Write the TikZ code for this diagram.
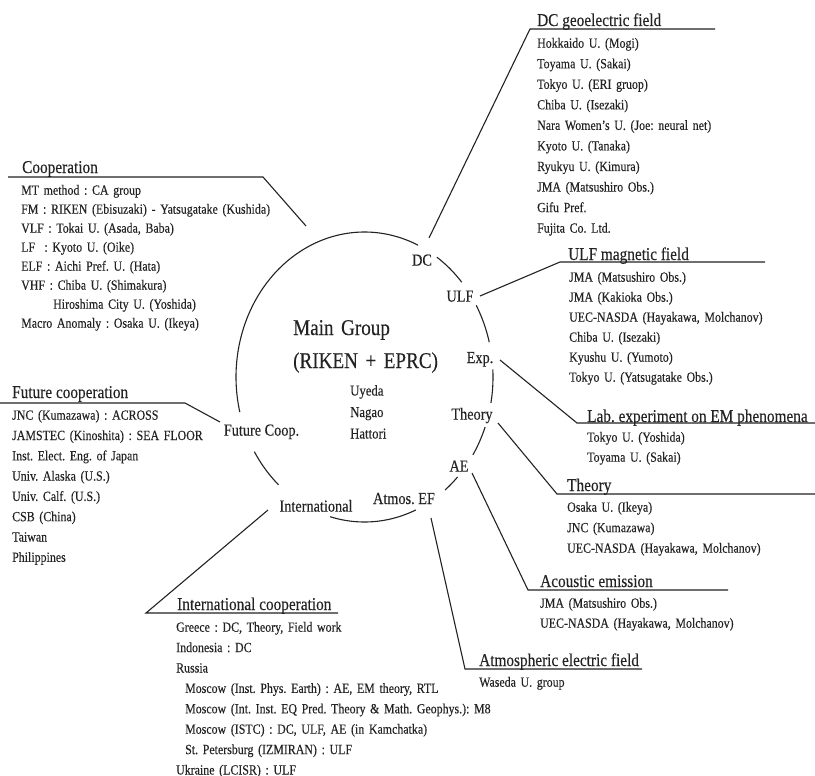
\documentclass[tikz,border=0pt]{standalone}
\usepackage{fontspec}
\setmainfont[FakeStretch=0.85,FakeBold=0.2]{Liberation Serif}
\definecolor{ink}{RGB}{35,35,35}
\tikzset{
  ring/.style={draw=ink, line width=1.1pt},
  conn/.style={draw=ink, line width=1.1pt, line join=miter},
  head/.style={anchor=base west, inner sep=0pt, text=ink, font=\fontsize{18}{20}\selectfont},
  list/.style={anchor=base west, inner sep=0pt, text=ink, text width=330pt, align=left},
  clabel/.style={anchor=base, inner sep=0pt, text=ink, font=\fontsize{16.8}{18}\selectfont},
}
\frenchspacing
\begin{document}
\begin{tikzpicture}[x=1pt,y=-1pt]
\fill[white] (0,0) rectangle (815,776);
\useasboundingbox (0,0) rectangle (815,776);

% ---- main ellipse, drawn as arcs between the labels
\def\cx{364.5}\def\cy{377}\def\rx{128.5}\def\ry{145}
\foreach \a/\b in {166/294.6, 304.3/319.2, 330.4/346.1, 357/10.3, 20.2/32.5, 43.6/51.2, 66.5/105.5, 132/149}{
  \ifdim \b pt<\a pt
    \draw[ring] plot[domain=\a:\b+360, samples=40, smooth] ({\cx+\rx*cos(\x)}, {\cy+\ry*sin(\x)});
  \else
    \draw[ring] plot[domain=\a:\b, samples=60, smooth] ({\cx+\rx*cos(\x)}, {\cy+\ry*sin(\x)});
  \fi
}

% ---- centre
\node[list, font=\fontsize{22.5}{33}\selectfont] (main) at (293,335) {Main Group\\(RIKEN + EPRC)};
\node[list, font=\fontsize{15}{21.5}\selectfont] (names) at (350,395.5) {Uyeda\\Nagao\\Hattori};

% ---- labels on the ring
\node[clabel] (DC)   at (422,265.6) {DC};
\node[clabel] (ULF)  at (460,301.6) {ULF};
\node[clabel] (Exp)  at (480,363)   {Exp.};
\node[clabel] (Thy)  at (472,419.6) {Theory};
\node[clabel] (AE)   at (459,471.6) {AE};
\node[clabel] (Atm)  at (404,504)   {Atmos. EF};
\node[clabel] (Intl) at (316,511.6) {International};
\node[clabel] (Fut)  at (261.5,435.6) {Future Coop.};

% ---- connector points
\coordinate (coopS) at (306,226); \coordinate (coopB) at (263,177); \coordinate (coopE) at (8,177);
\coordinate (dcS) at (429,238);   \coordinate (dcB) at (530,29);    \coordinate (dcE) at (715,29);
\coordinate (ulfS) at (480,296);  \coordinate (ulfB) at (560,262);  \coordinate (ulfE) at (765,262);
\coordinate (expS) at (500,360);  \coordinate (expB) at (577,423);  \coordinate (expE) at (815,423);
\coordinate (thS) at (498,423);   \coordinate (thB) at (557,494);   \coordinate (thE) at (815,494);
\coordinate (aeS) at (472,473);   \coordinate (aeB) at (528,590);   \coordinate (aeE) at (728,590);
\coordinate (atS) at (431,518);   \coordinate (atB) at (465,669);   \coordinate (atE) at (642,669);
\coordinate (inS) at (268,510);   \coordinate (inB) at (146,613);   \coordinate (inE) at (338,613);
\coordinate (fuS) at (220,422);   \coordinate (fuB) at (185,403);   \coordinate (fuE) at (0,403);

\draw[conn] (coopS) -- (coopB) -- (coopE);
\draw[conn] (dcS) -- (dcB) -- (dcE);
\draw[conn] (ulfS) -- (ulfB) -- (ulfE);
\draw[conn] (expS) -- (expB) -- (expE);
\draw[conn] (thS) -- (thB) -- (thE);
\draw[conn] (aeS) -- (aeB) -- (aeE);
\draw[conn] (atS) -- (atB) -- (atE);
\draw[conn] (inS) -- (inB) -- (inE);
\draw[conn] (fuS) -- (fuB) -- (fuE);

% ---- headings
\node[head] (hDC)   at (537,26)  {DC geoelectric field};
\node[head] (hCoop) at (22,173)  {Cooperation};
\node[head] (hFut)  at (12,398)  {Future cooperation};
\node[head] (hULF)  at (568,260) {ULF magnetic field};
\node[head] (hLab)  at (587,422) {Lab. experiment on EM phenomena};
\node[head] (hThy)  at (567,491) {Theory};
\node[head] (hAE)   at (540,587) {Acoustic emission};
\node[head] (hAtm)  at (479,666) {Atmospheric electric field};
\node[head] (hIntl) at (177,610) {International cooperation};

% ---- lists
\node[list, font=\fontsize{14}{20.55}\selectfont] (lDC) at (537,47.7) {Hokkaido U. (Mogi)\\Toyama U. (Sakai)\\Tokyo U. (ERI gruop)\\Chiba U. (Isezaki)\\Nara Women's U. (Joe: neural net)\\Kyoto U. (Tanaka)\\Ryukyu U. (Kimura)\\JMA (Matsushiro Obs.)\\Gifu Pref.\\Fujita Co. Ltd.};

\node[list, font=\fontsize{14}{19}\selectfont] (lCoop) at (21,194.7) {MT method : CA group\\FM : RIKEN (Ebisuzaki) - Yatsugatake (Kushida)\\VLF : Tokai U. (Asada, Baba)\\LF\ \ : Kyoto U. (Oike)\\ELF : Aichi Pref. U. (Hata)\\VHF : Chiba U. (Shimakura)\\\hspace*{32pt}Hiroshima City U. (Yoshida)\\Macro Anomaly : Osaka U. (Ikeya)};

\node[list, font=\fontsize{14}{20.3}\selectfont] (lFut) at (12,419.7) {JNC (Kumazawa) : ACROSS\\JAMSTEC (Kinoshita) : SEA FLOOR\\Inst. Elect. Eng. of Japan\\Univ. Alaska (U.S.)\\Univ. Calf. (U.S.)\\CSB (China)\\Taiwan\\Philippines};

\node[list, font=\fontsize{14}{20}\selectfont] (lULF) at (569,281.7) {JMA (Matsushiro Obs.)\\JMA (Kakioka Obs.)\\UEC-NASDA (Hayakawa, Molchanov)\\Chiba U. (Isezaki)\\Kyushu U. (Yumoto)\\Tokyo U. (Yatsugatake Obs.)};

\node[list, font=\fontsize{14}{20}\selectfont] (lLab) at (587,441.7) {Tokyo U. (Yoshida)\\Toyama U. (Sakai)};

\node[list, font=\fontsize{14}{20.5}\selectfont] (lThy) at (567,511.7) {Osaka U. (Ikeya)\\JNC (Kumazawa)\\UEC-NASDA (Hayakawa, Molchanov)};

\node[list, font=\fontsize{14}{20}\selectfont] (lAE) at (540,607.7) {JMA (Matsushiro Obs.)\\UEC-NASDA (Hayakawa, Molchanov)};

\node[list, font=\fontsize{14}{20}\selectfont] (lAtm) at (479,686.7) {Waseda U. group};

\node[list, font=\fontsize{14}{20.4}\selectfont] (lIntl) at (176,631.7) {Greece : DC, Theory, Field work\\Indonesia : DC\\Russia\\\hspace*{9pt}Moscow (Inst. Phys. Earth) : AE, EM theory, RTL\\\hspace*{9pt}Moscow (Int. Inst. EQ Pred. Theory \& Math. Geophys.): M8\\\hspace*{9pt}Moscow (ISTC) : DC, ULF, AE (in Kamchatka)\\\hspace*{9pt}St. Petersburg (IZMIRAN) : ULF\\Ukraine (LCISR) : ULF};
\end{tikzpicture}
\end{document}
